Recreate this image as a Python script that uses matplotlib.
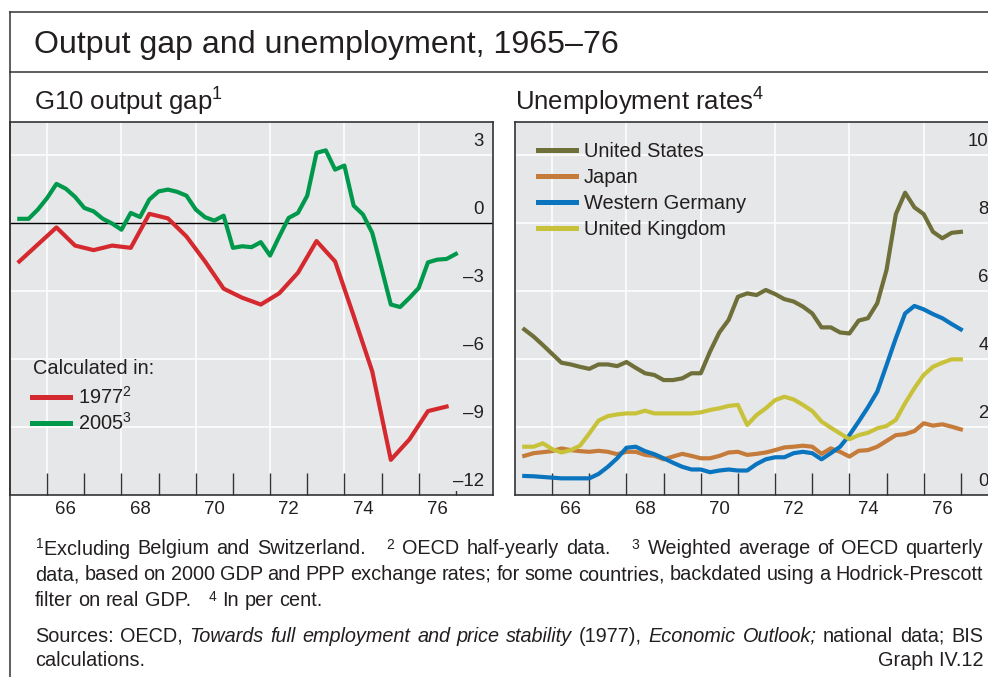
import numpy as np
import matplotlib
matplotlib.use("Agg")
import matplotlib.pyplot as plt
from matplotlib.lines import Line2D
import matplotlib.transforms as mtransforms

plt.rcParams['font.family'] = ['Liberation Sans', 'DejaVu Sans']
plt.rcParams['mathtext.fontset'] = 'custom'
plt.rcParams['mathtext.rm'] = 'Liberation Sans'
plt.rcParams['mathtext.it'] = 'Liberation Sans:italic'
plt.rcParams['mathtext.default'] = 'regular'

TXT = '#231f20'
BG = '#e6e7e8'
FRAME = '#333333'

# ---------------- data ----------------
# G10 output gap (per cent)
gap_1977_dates = np.arange(1965.25, 1976.76, 0.5)   # half-yearly
gap_1977 = [-1.7, -0.95, -0.2, -1.0, -1.2, -1.0, -1.1, 0.4, 0.2, -0.6, -1.7, -2.9,
            -3.3, -3.6, -3.1, -2.2, -0.8, -1.7, -4.1, -6.55, -10.45, -9.55, -8.3, -8.1]

gap_2005_dates = np.arange(1965.25, 1977.01, 0.25)  # quarterly
gap_2005 = [0.18, 0.18, 0.59, 1.10, 1.72, 1.51, 1.15, 0.66, 0.51, 0.18, -0.03, -0.30,
            0.44, 0.26, 1.03, 1.39, 1.47, 1.37, 1.20, 0.59, 0.25, 0.10, 0.32, -1.10,
            -1.03, -1.07, -0.85, -1.44, -0.59, 0.22, 0.44, 1.20, 3.09, 3.20, 2.35, 2.53,
            0.76, 0.37, -0.44, -2.0, -3.60, -3.71, -3.31, -2.87, -1.74, -1.62, -1.59, -1.37]

# Unemployment rates (per cent), quarterly
unemp_dates = np.arange(1965.25, 1977.01, 0.25)
us = [4.87, 4.66, 4.41, 4.15, 3.89, 3.84, 3.77, 3.71, 3.84, 3.84,
      3.79, 3.91, 3.74, 3.58, 3.53, 3.38, 3.38, 3.43, 3.58, 3.58,
      4.22, 4.78, 5.15, 5.83, 5.93, 5.88, 6.03, 5.91, 5.76, 5.69,
      5.54, 5.34, 4.93, 4.93, 4.78, 4.75, 5.13, 5.20, 5.64, 6.62,
      8.26, 8.89, 8.46, 8.26, 7.74, 7.55, 7.71, 7.74]
japan = [1.15, 1.23, 1.26, 1.29, 1.37, 1.32, 1.29, 1.27, 1.30, 1.27,
         1.20, 1.27, 1.27, 1.18, 1.15, 1.05, 1.13, 1.21, 1.15, 1.08,
         1.08, 1.15, 1.25, 1.27, 1.18, 1.21, 1.25, 1.32, 1.40, 1.42,
         1.45, 1.42, 1.21, 1.37, 1.27, 1.13, 1.30, 1.32, 1.42, 1.59,
         1.76, 1.79, 1.88, 2.11, 2.04, 2.08, 2.01, 1.93]
germany = [0.56, 0.55, 0.53, 0.51, 0.49, 0.49, 0.49, 0.49, 0.62, 0.83,
           1.08, 1.39, 1.42, 1.29, 1.20, 1.08, 0.95, 0.83, 0.75, 0.75,
           0.67, 0.72, 0.75, 0.72, 0.72, 0.91, 1.05, 1.11, 1.11, 1.23,
           1.27, 1.23, 1.05, 1.23, 1.42, 1.76, 2.16, 2.58, 3.04, 3.82,
           4.61, 5.34, 5.56, 5.46, 5.32, 5.20, 5.03, 4.87]
uk = [1.42, 1.42, 1.52, 1.35, 1.25, 1.32, 1.45, 1.81, 2.19, 2.32,
      2.37, 2.40, 2.40, 2.48, 2.40, 2.40, 2.40, 2.40, 2.40, 2.43,
      2.50, 2.55, 2.62, 2.65, 2.06, 2.35, 2.55, 2.79, 2.89, 2.81,
      2.65, 2.47, 2.16, 1.98, 1.81, 1.64, 1.76, 1.83, 1.96, 2.03,
      2.21, 2.70, 3.14, 3.53, 3.77, 3.89, 3.99, 3.99]

x_tick_labels = ['66', '68', '70', '72', '74', '76']
gap_ticks = [3, 0, -3, -6, -9, -12]
unemp_ticks = [10, 8, 6, 4, 2, 0]

# ---------------- figure ----------------
W, H = 988, 677
fig = plt.figure(figsize=(W / 100, H / 100), dpi=100)

def fx(px):
    return px / W

def fy(py):
    return 1 - py / H

# outer border and title separator
for (x0, y0, x1, y1) in [(10, 12, 988, 12), (10, 12, 10, 677), (10, 72, 988, 72)]:
    fig.add_artist(Line2D([fx(x0), fx(x1)], [fy(y0), fy(y1)], color=FRAME, lw=1.1,
                          transform=fig.transFigure))

fig.text(fx(34), fy(45), 'Output gap and unemployment, 1965–76', fontsize=23.1,
         color=TXT, va='center', ha='left')
fig.text(fx(34), fy(102), r'G10 output gap$^1$', fontsize=18.5, color=TXT, va='center')
fig.text(fx(515), fy(102), r'Unemployment rates$^4$', fontsize=18.5, color=TXT, va='center')


def setup(ax, ylim, yticks, bottom_val, zero_line=False):
    ax.set_facecolor(BG)
    ax.set_xlim(1965, 1978)
    ax.set_ylim(*ylim)
    for s in ax.spines.values():
        s.set_color(FRAME)
        s.set_linewidth(1.2)
    for yr in range(1966, 1977, 2):
        ax.axvline(yr, color='white', lw=1.1, zorder=1)
    for v in yticks:
        if v == bottom_val:
            continue
        if zero_line and v == 0:
            ax.axhline(0, color='black', lw=1.0, zorder=2)
        else:
            ax.axhline(v, color='white', lw=1.1, zorder=1)
    ax.set_xticks(np.arange(1966, 1978, 1))
    ax.set_xticklabels([])
    ax.tick_params(axis='x', which='major', direction='in', length=15.8, width=1.0,
                   color=FRAME)
    ax.set_xticks(np.arange(1966.5, 1977, 2), minor=True)
    ax.set_xticklabels(x_tick_labels, minor=True)
    ax.tick_params(axis='x', which='minor', length=0, pad=4, labelsize=13.4,
                   labelcolor=TXT)
    ax.set_yticks([])
    trans = mtransforms.offset_copy(ax.get_yaxis_transform(), fig=fig, x=0, y=8.5,
                                    units='dots')
    for v in yticks:
        lab = str(v).replace('-', '–')
        kw = {}
        if v == bottom_val:
            kw['bbox'] = dict(facecolor=BG, edgecolor='none', pad=0.5)
        ax.text(0.981, v, lab, transform=trans, ha='right', va='baseline',
                fontsize=13.4, color=TXT, zorder=6, **kw)


ax1 = fig.add_axes([fx(10), fy(495), (493 - 10) / W, 373 / H])
setup(ax1, (-12, 4.45), gap_ticks, -12, zero_line=True)
ax1.plot(gap_1977_dates, gap_1977, color='#d42a2f', lw=3, label=r'1977$^2$', zorder=4)
ax1.plot(gap_2005_dates, gap_2005, color='#00994c', lw=3, label=r'2005$^3$', zorder=4)
ax1.text((33 - 10) / 483, (495 - 368) / 373, 'Calculated in:', transform=ax1.transAxes,
         fontsize=14.4, color=TXT, va='center', ha='left')
leg1 = ax1.legend(loc='upper left', bbox_to_anchor=((32 - 10) / 483, (495 - 386) / 373),
                  frameon=False, borderpad=0, borderaxespad=0, fontsize=14.4,
                  handlelength=1.9, handletextpad=0.4, labelspacing=0.2)
for t in leg1.get_texts():
    t.set_color(TXT)
for h in leg1.legend_handles:
    h.set_linewidth(3.6)

ax2 = fig.add_axes([fx(515), fy(495), 483 / W, 373 / H])
setup(ax2, (0, 10.97), unemp_ticks, 0)
ax2.plot(unemp_dates, us, color='#6f6f3a', lw=3, label='United States', zorder=4)
ax2.plot(unemp_dates, japan, color='#c57b3a', lw=3, label='Japan', zorder=4)
ax2.plot(unemp_dates, germany, color='#0a74bf', lw=3, label='Western Germany', zorder=4)
ax2.plot(unemp_dates, uk, color='#c8c23a', lw=3, label='United Kingdom', zorder=4)
leg2 = ax2.legend(loc='upper left', bbox_to_anchor=((538 - 515) / 483, (495 - 142) / 373),
                  frameon=False, borderpad=0, borderaxespad=0, fontsize=14.4,
                  handlelength=1.9, handletextpad=0.4, labelspacing=0.35)
for t in leg2.get_texts():
    t.set_color(TXT)
for h in leg2.legend_handles:
    h.set_linewidth(3.6)

# ---------------- footnotes (justified lines) ----------------
FN = 14.3
renderer = fig.canvas.get_renderer()


def draw_line(y, line, justify=True, x0=35, x1=983):
    toks = line.split(' ')
    objs = []
    for tok in toks:
        style = 'normal'
        if tok.startswith('*'):
            tok = tok[1:]
            style = 'italic'
        t = fig.text(0, fy(y), tok, fontsize=FN, color=TXT, va='center', ha='left',
                     fontstyle=style)
        objs.append(t)
    widths = [o.get_window_extent(renderer).width if o.get_text() else 0 for o in objs]
    space = fig.text(0, 0, 'a a', fontsize=FN).get_window_extent(renderer).width - \
        fig.text(0, 0, 'aa', fontsize=FN).get_window_extent(renderer).width
    for t in fig.texts[-2:]:
        t.remove()
    if justify and len(objs) > 1:
        gap = ((x1 - x0) - sum(widths)) / (len(objs) - 1)
    else:
        gap = space
    x = x0
    for o, w in zip(objs, widths):
        o.set_x(fx(x))
        x += w + gap


draw_line(549, r'$^1$Excluding Belgium and Switzerland.   $^2$ OECD half-yearly data.   $^3$ Weighted average of OECD quarterly')
draw_line(575, 'data, based on 2000 GDP and PPP exchange rates; for some countries, backdated using a Hodrick-Prescott')
draw_line(601, r'filter on real GDP.   $^4$ In per cent.', justify=False)
draw_line(636, 'Sources: OECD, *Towards *full *employment *and *price *stability (1977), *Economic *Outlook; national data; BIS')
draw_line(661, 'calculations.', justify=False)
fig.text(fx(983), fy(661), 'Graph IV.12', fontsize=FN, color=TXT, va='center', ha='right')

fig.savefig('out.png', dpi=100)
